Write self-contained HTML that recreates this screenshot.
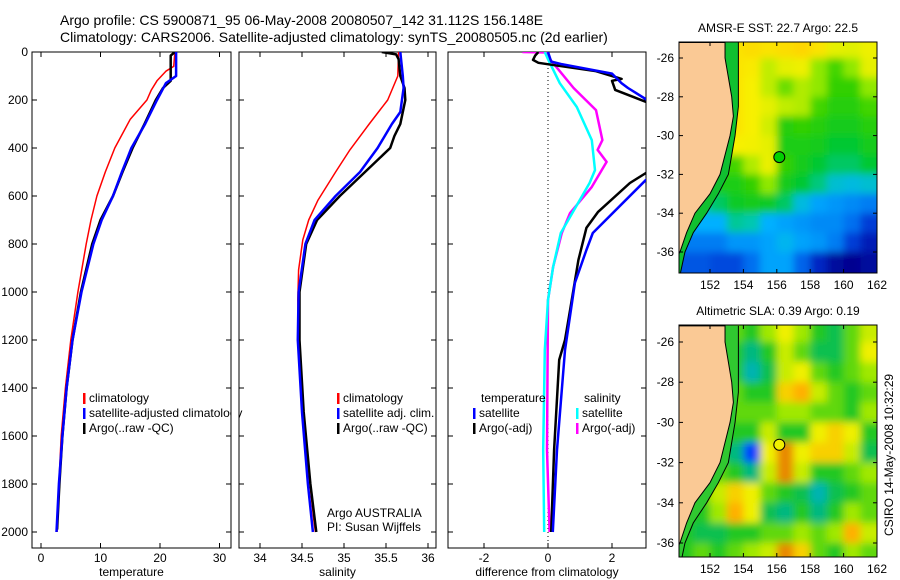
<!DOCTYPE html>
<html><head><meta charset="utf-8">
<style>
html,body{margin:0;padding:0;background:#fff;}
svg{display:block;font-family:"Liberation Sans",sans-serif;}
text{font-size:12px;fill:#000;}
</style></head>
<body>
<svg id="fig" width="900" height="580" viewBox="0 0 900 580" xmlns="http://www.w3.org/2000/svg">
<defs>
<clipPath id="c1"><rect x="32" y="52" width="199" height="496"/></clipPath>
<clipPath id="c2"><rect x="239" y="52" width="197" height="496"/></clipPath>
<clipPath id="c3"><rect x="448" y="52" width="198" height="496"/></clipPath>
<clipPath id="m1"><rect x="679" y="42" width="198" height="231"/></clipPath>
<clipPath id="m2"><rect x="679" y="325" width="198" height="232"/></clipPath>
<filter id="bl" x="-5%" y="-5%" width="110%" height="110%"><feGaussianBlur stdDeviation="4"/></filter>
</defs>
<text x="60" y="25" style="font-size:14px">Argo profile: CS 5900871_95 06-May-2008 20080507_142 31.112S 156.148E</text>
<text x="60" y="42" style="font-size:14px">Climatology: CARS2006. Satellite-adjusted climatology: synTS_20080505.nc (2d earlier)</text>
<g id="g1"></g>
<g id="g2"></g>
<g id="g3"></g>
<g id="map1"></g>
<g id="map2"></g>
<text transform="translate(893,455) rotate(-90)" text-anchor="middle">CSIRO 14-May-2008 10:32:29</text>
</svg>
<script>
// ---- profile data: [depth, value]
const tempClim=[[0,22.5],[60,22.3],[80,21],[120,19.5],[160,18.5],[200,17.8],[280,15],[400,12.4],[500,10.8],[600,9.4],[700,8.4],[800,7.6],[1000,6.2],[1200,5],[1400,4.1],[1600,3.4],[1800,3],[2000,2.7]];
const tempSat=[[0,22.7],[100,22.7],[130,21],[200,19.5],[300,17.5],[400,15.2],[500,13.6],[600,12.1],[700,10.2],[800,8.8],[1000,6.8],[1200,5.3],[1400,4.3],[1600,3.6],[1800,3],[2000,2.6]];
const tempArgo=[[0,22.5],[15,21.8],[120,21.8],[150,20.5],[200,19.3],[300,17.4],[400,15.4],[500,13.7],[600,12.1],[700,10],[800,8.6],[1000,6.7],[1200,5.3],[1400,4.3],[1600,3.6],[1800,3.1],[1990,2.7]];
const salClim=[[0,35.65],[100,35.64],[200,35.52],[300,35.3],[408,35.07],[500,34.9],[617,34.69],[700,34.58],[783,34.51],[908,34.46],[1033,34.45],[1200,34.46],[1450,34.5],[1658,34.55],[1950,34.64],[2000,34.66]];
const salSat=[[0,35.67],[100,35.7],[150,35.71],[250,35.67],[300,35.57],[400,35.4],[500,35.19],[600,34.9],[700,34.65],[800,34.54],[900,34.5],[1000,34.46],[1200,34.45],[1500,34.5],[1800,34.57],[2000,34.63]];
const salArgo=[[0,35.45],[10,35.62],[30,35.65],[100,35.67],[150,35.72],[200,35.73],[300,35.67],[350,35.6],[400,35.55],[500,35.25],[600,34.95],[700,34.68],[800,34.55],[1000,34.47],[1200,34.47],[1500,34.52],[1800,34.6],[2000,34.67]];
const dTempSat=[[0,0],[40,0.1],[50,0.4],[90,2.0],[130,2.3],[150,2.5],[200,3.1],[300,4.5],[420,4.5],[533,3.06],[754,1.4],[825,1.2],[962,0.84],[1242,0.53],[1658,0.28],[2000,0.15]];
const dTempArgo=[[0,-0.3],[15,-0.4],[33,-0.47],[45,-0.3],[55,0.2],[80,1.5],[100,2.0],[112,2.3],[120,2.0],[158,2.1],[210,3.1],[300,4.5],[420,4.5],[504,3.06],[546,2.56],[667,1.56],[733,1.2],[867,0.95],[1075,0.69],[1200,0.53],[1283,0.35],[1658,0.19],[2000,0.1]];
const dSalSat=[[0,-0.1],[30,0],[130,0.37],[229,0.9],[367,1.37],[492,1.47],[546,1.3],[754,0.4],[896,0.16],[1033,0],[1242,-0.1],[1658,-0.15],[2000,-0.12]];
const dSalArgo=[[0,-0.8],[2,0],[20,0],[150,0.8],[242,1.5],[367,1.7],[408,1.55],[458,1.83],[562,1.37],[671,0.69],[754,0.43],[896,0.16],[1033,0],[1658,-0.03],[2000,0.05]];
const depthTicks=[0,200,400,600,800,1000,1200,1400,1600,1800,2000];
const tempTicks=[0,10,20,30];
const salTicks=[34,34.5,35,35.5,36];
const diffTicks=[-2,0,2];
// ---- map data (rows lat -25.5 .. -36.5, cols lon 150.5 .. 161.5)
const sstGrid=[
[22,22,22.5,23.2,23.3,23.2,23.3,23.4,23.2,22.6,22.5,22.8],
[22,22,22.5,23.2,23.1,22.3,22.6,22.8,22,21.6,22,22.6],
[22,22,22.5,23.2,23.0,22.3,21.8,22.2,22,21.5,21.5,22],
[22,22,22.5,23.2,23.0,22.6,22.3,22.2,21.6,21.4,21.4,21.6],
[22,22,22.5,23.2,23.0,22.4,21.4,21.5,21.4,21.2,21.2,21.4],
[22,22,22.5,23.0,22.9,22.6,21.3,21.3,21.2,21.0,21.0,21.2],
[21.5,21.5,21.6,21.6,22.2,22.7,21.5,21.2,21.0,20.8,20.8,21],
[21,21,21.3,21.3,21.5,22.0,21.2,21,20.7,20.3,20.2,20.3],
[20.5,20.5,20.8,21.1,21.2,21.1,20.8,20.2,19.9,19.8,19.7,19.6],
[20,20,20.0,20.6,20.5,20.0,19.9,19.8,19.7,19.7,19.5,19.1],
[19.6,19.6,19.6,19.8,19.8,19.9,20.1,19.9,19.8,19.6,19.1,18.8],
[19.3,19.3,19.2,19.2,19.5,19.9,19.9,19.4,18.9,18.6,18.5,18.6]];
const slaGrid=[
[0,0,0.05,0.05,0,0.1,0.2,0.1,0,-0.05,0.05,0.15],
[0,0,0.05,0,-0.1,0,0.15,0.05,-0.05,-0.05,0.05,0.2],
[0,0,0.05,0,-0.15,-0.05,0.15,0.2,0.05,0,0.05,0.1],
[0,0,0.05,0.05,0,0,0.25,0.3,0.15,0.05,0,0.05],
[0,0,0.05,0.05,0.05,0.05,0.1,0.1,0.05,0.05,0,0.1],
[0,0,0.05,0,0,0.15,0,0,0.2,0.25,0.2,0],
[0,0,0,-0.1,-0.3,0.2,0.35,0.2,0.25,0.25,0.15,-0.05],
[0,0,0.05,0,-0.1,0.15,0.35,0.15,0,0,0.05,0.1],
[0,0.05,0.15,0.25,0.2,0.05,0,-0.05,-0.15,-0.05,0,0.05],
[0,0,0.1,0.3,0.2,-0.05,-0.1,0,-0.1,0,0.1,0.05],
[0,-0.05,-0.05,0,0,0.05,0.05,0.1,0.05,0.1,0.3,0.15],
[0,0.05,0,0.05,0.1,0.15,0.35,0.25,0.05,0,0.1,0.05]];
const coast=[[150,-25.2],[152.9,-25.2],[152.9,-26],[153.3,-28],[153.4,-29],[153.2,-30],[152.9,-31],[152.6,-32],[152,-33],[151.1,-34],[150.6,-35],[150.2,-36],[150,-36.3]];
const shelf=[[153.7,-25.2],[153.7,-27],[153.7,-28.5],[153.5,-30],[153.3,-31],[153.1,-32],[152.5,-33],[151.8,-34],[151,-35],[150.5,-36],[150.2,-37.2]];
const lonTicks=[152,154,156,158,160,162];
const latTicks=[-26,-28,-30,-32,-34,-36];
const argoPos=[156.15,-31.11];

const NS='http://www.w3.org/2000/svg';
function mk(parent,tag,attrs){const e=document.createElementNS(NS,tag);for(const k in attrs)e.setAttribute(k,attrs[k]);parent.appendChild(e);return e;}
const yD=d=>52+0.24*d;

function panel(gid,x0,x1,xs,xTicks,fmt,clip,title,labelsLeft){
  const g=document.getElementById(gid);
  const fr=mk(g,'rect',{x:x0,y:52,width:x1-x0,height:496,fill:'none',stroke:'#000','stroke-width':1});
  
  
  depthTicks.forEach(d=>{
    const y=yD(d);
    mk(g,'line',{x1:x0,x2:x0+5,y1:y,y2:y,stroke:'#000'});
    mk(g,'line',{x1:x1-5,x2:x1,y1:y,y2:y,stroke:'#000'});
    if(labelsLeft){const t=mk(g,'text',{x:x0-4,y:y+4,'text-anchor':'end'});t.textContent=d;
      
      }
  });
  xTicks.forEach(v=>{
    const x=xs(v);
    mk(g,'line',{x1:x,x2:x,y1:52,y2:57,stroke:'#000'});
    mk(g,'line',{x1:x,x2:x,y1:543,y2:548,stroke:'#000'});
    const t=mk(g,'text',{x:x,y:562,'text-anchor':'middle'});t.textContent=fmt(v);
    
    
  });
  const t=mk(g,'text',{x:(x0+x1)/2,y:576,'text-anchor':'middle'});t.textContent=title;
  
  
  const cg=mk(g,'g',{'clip-path':'url(#'+clip+')'});
  return cg;
}
function line(g,data,xs,color,w,name){
  const p=mk(g,'polyline',{points:data.map(d=>xs(d[1]).toFixed(1)+','+yD(d[0]).toFixed(1)).join(' '),fill:'none',stroke:color,'stroke-width':w,'stroke-linejoin':'round'});
  
  
}
function legend(g,x,y,color,label){
  if(color){const r=mk(g,'rect',{x:x,y:y-9,width:2.5,height:11,fill:color});}
  const t=mk(g,'text',{x:x+6,y:y});t.textContent=label;
  
  
}
// panel 1
const xs1=v=>41+5.95*v;
const c1=panel('g1',32,231,xs1,tempTicks,v=>v,'c1','temperature',true);
line(c1,tempClim,xs1,'#ff0000',1.5,'temp-climatology-line');
line(c1,tempArgo,xs1,'#000',2.5,'temp-argo-line');
line(c1,tempSat,xs1,'#0000ff',2.5,'temp-satellite-line');
const g1=document.getElementById('g1');
legend(g1,83,402,'#ff0000','climatology');
legend(g1,83,417,'#0000ff','satellite-adjusted climatology');
legend(g1,83,432,'#000','Argo(..raw -QC)');
mk(g1,'rect',{x:231.5,y:390,width:7,height:50,fill:'#fff'});
mk(g1,'line',{x1:231,x2:231,y1:390,y2:440,stroke:'#000'});
// panel 2
const xs2=v=>260+84*(v-34);
const c2=panel('g2',239,436,xs2,salTicks,v=>v,'c2','salinity',false);
line(c2,salClim,xs2,'#ff0000',1.5,'sal-climatology-line');
line(c2,salArgo,xs2,'#000',2.5,'sal-argo-line');
line(c2,salSat,xs2,'#0000ff',2.5,'sal-satellite-line');
const g2=document.getElementById('g2');
legend(g2,337,402,'#ff0000','climatology');
legend(g2,337,417,'#0000ff','satellite adj. clim.');
legend(g2,337,432,'#000','Argo(..raw -QC)');
let t=mk(g2,'text',{x:327,y:517});t.textContent='Argo AUSTRALIA';


t=mk(g2,'text',{x:327,y:531});t.textContent='PI: Susan Wijffels';


// panel 3
const xs3=v=>548+32*v;
const c3=panel('g3',448,646,xs3,diffTicks,v=>v,'c3','difference from climatology',false);
mk(c3,'line',{x1:xs3(0),x2:xs3(0),y1:52,y2:548,stroke:'#000','stroke-dasharray':'1,3'});
line(c3,dSalArgo,xs3,'#ff00ff',2.5,'sal-argo-diff-line');
line(c3,dSalSat,xs3,'#00ffff',2.5,'sal-satellite-diff-line');
line(c3,dTempArgo,xs3,'#000',2.5,'temp-argo-diff-line');
line(c3,dTempSat,xs3,'#0000ff',2.5,'temp-satellite-diff-line');
const g3=document.getElementById('g3');
legend(g3,475,402,null,'temperature');
legend(g3,473,417,'#0000ff','satellite');
legend(g3,473,432,'#000','Argo(-adj)');
legend(g3,578,402,null,'salinity');
legend(g3,576,417,'#00ffff','satellite');
legend(g3,576,432,'#ff00ff','Argo(-adj)');

// ---- maps
function cmap(stops,v){
  if(v<=stops[0][0])return stops[0][1];
  for(let i=1;i<stops.length;i++){if(v<=stops[i][0]){const a=stops[i-1],b=stops[i],f=(v-a[0])/(b[0]-a[0]);
    const ca=a[1].match(/\w\w/g).map(h=>parseInt(h,16)),cb=b[1].match(/\w\w/g).map(h=>parseInt(h,16));
    return 'rgb('+ca.map((c,k)=>Math.round(c+(cb[k]-c)*f)).join(',')+')';}}
  return stops[stops.length-1][1];
}
const sstStops=[[18.5,'#000090'],[19.0,'#0030d0'],[19.5,'#0070f0'],[20,'#00b0ff'],[20.5,'#00c8b0'],[21,'#00c830'],[21.5,'#30d000'],[22,'#90e800'],[22.5,'#e0f000'],[23,'#f8f000'],[23.5,'#ffd000']];
const slaStops=[[-0.3,'#0040ff'],[-0.2,'#00b0e0'],[-0.1,'#00b880'],[0,'#20c820'],[0.1,'#a0e800'],[0.2,'#f0f000'],[0.3,'#ffb000'],[0.4,'#d06000']];
function drawMap(gid,clip,top,bot,lat26,pxPerLat,grid,stops,title,shelfColor,circleColor){
  const g=document.getElementById(gid);
  const X=lon=>710+(lon-152)*16.7, Y=lat=>lat26+(-26-lat)*pxPerLat;
  const cg=mk(g,'g',{'clip-path':'url(#'+clip+')'});
  const hg=mk(cg,'g',{filter:'url(#bl)'});
  grid.forEach((row,r)=>row.forEach((v,c)=>{
    let x0=X(150+c),x1=X(151+c),y0=Y(-25-r),y1=Y(-26-r);
    if(c===0)x0-=20; if(c===row.length-1)x1+=20; if(r===0)y0-=20; if(r===grid.length-1)y1+=20;
    const cell=mk(hg,'rect',{x:x0,y:y0,width:x1-x0+0.5,height:y1-y0+0.5,fill:cmap(stops,v)});
    
    
  }));
  const sp=shelf.map(p=>X(p[0])+','+Y(p[1])).join(' ');
  const shelfPoly=mk(cg,'polygon',{points:X(149)+','+Y(-25)+' '+sp+' '+X(149)+','+Y(-38),fill:shelfColor});
  
  
  const cp=coast.map(p=>X(p[0])+','+Y(p[1])).join(' ');
  const land=mk(cg,'polygon',{points:X(149)+','+Y(-25)+' '+cp+' '+X(149)+','+Y(-38),fill:'#fac995',stroke:'#000','stroke-width':1});
  
  
  const sl=mk(cg,'polyline',{points:sp,fill:'none',stroke:'#000','stroke-width':1});
  
  
  const ac=mk(cg,'circle',{cx:X(argoPos[0]),cy:Y(argoPos[1]),r:5.5,fill:circleColor,stroke:'#000','stroke-width':1});
  
  
  const fr=mk(g,'rect',{x:679,y:top,width:198,height:bot-top,fill:'none',stroke:'#000'});
  
  
  lonTicks.forEach(l=>{const x=X(l);mk(g,'line',{x1:x,x2:x,y1:top,y2:top+4,stroke:'#000'});mk(g,'line',{x1:x,x2:x,y1:bot-4,y2:bot,stroke:'#000'});
    const tt=mk(g,'text',{x:x,y:bot+16,'text-anchor':'middle'});tt.textContent=l;
    
    });
  latTicks.forEach(l=>{const y=Y(l);mk(g,'line',{x1:679,x2:683,y1:y,y2:y,stroke:'#000'});mk(g,'line',{x1:873,x2:877,y1:y,y2:y,stroke:'#000'});
    const tt=mk(g,'text',{x:674,y:y+4,'text-anchor':'end'});tt.textContent=l;
    
    });
  const tt=mk(g,'text',{x:778,y:top-10,'text-anchor':'middle'});tt.textContent=title;
  
  
}
drawMap('map1','m1',42,273,58,19.4,sstGrid,sstStops,'AMSR-E SST: 22.7 Argo: 22.5','#10c030','#00d000');
drawMap('map2','m2',325,557,342,20.1,slaGrid,slaStops,'Altimetric SLA: 0.39 Argo: 0.19','#30c830','#f0f000');
</script>
</body></html>
